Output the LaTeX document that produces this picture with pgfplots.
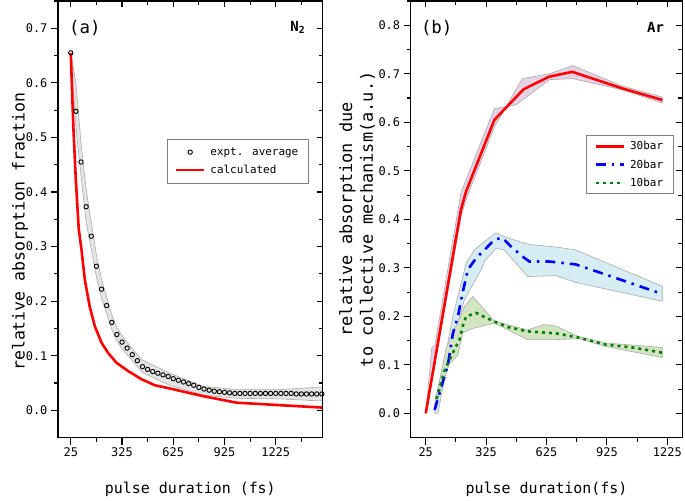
\documentclass[border=0pt]{standalone}
\usepackage{fontspec}
\setmainfont{DejaVu Sans Mono}
\usepackage{pgfplots}
\pgfplotsset{compat=1.18}
\definecolor{bandgray}{HTML}{E4E4E4}
\definecolor{bandpink}{HTML}{E6D2E6}
\definecolor{bandblue}{HTML}{D6EDF3}
\definecolor{bandgreen}{HTML}{D3E4C1}
\definecolor{bandedge}{HTML}{ABABAB}
\pgfplotsset{
  base/.style={scale only axis, axis line style={line width=1.3bp},
    tick style={line width=1.1bp, black}, major tick length=7bp, minor tick length=4bp,
    tick align=outside, xtick pos=bottom, ytick pos=left,
    ticklabel style={font=\fontsize{12}{14}\selectfont},
    /pgf/number format/assume math mode=true,
    xticklabel style={/pgf/number format/.cd, set thousands separator={}},
    yticklabel style={/pgf/number format/.cd, fixed, fixed zerofill, precision=1},
    xlabel style={font=\fontsize{15}{17}\selectfont, at={(axis description cs:0.5,-0.119)}, anchor=center},
    ylabel style={font=\fontsize{17}{21}\selectfont, anchor=center, align=center},
  },
  over/.style={scale only axis, axis line style={line width=1.3bp},
    tick style={line width=1.1bp, black}, major tick length=6bp, minor tick length=4bp,
    tick align=inside, xtick pos=top, ytick pos=right, xticklabels={}, yticklabels={}},
  band/.style={fill=#1, draw=bandedge, line width=0.6bp, forget plot},
  lineleg/.style={legend image code/.code={\draw[##1] (0bp,0bp) -- (28bp,0bp);}},
  myleg/.style={legend style={at={#1}, anchor=north west, draw=gray, line width=0.8bp,
    font=\fontsize{11}{13}\selectfont, inner xsep=8bp, inner ysep=4bp, row sep=4.5bp,
    /tikz/every odd column/.append style={column sep=3bp}},
    legend cell align=left},
}
\begin{document}
\begin{tikzpicture}
% ---------------- panel (a)
\begin{axis}[base, name=A, width=265bp, height=437bp,
  xmin=-50, xmax=1500, ymin=-0.05, ymax=0.75,
  xtick={25,325,625,925,1225}, minor xtick={175,475,775,1075,1375},
  ytick={0,0.1,0.2,0.3,0.4,0.5,0.6,0.7}, minor ytick={0.05,0.15,0.25,0.35,0.45,0.55,0.65,0.75},
  xlabel={pulse duration (fs)},
  ylabel={relative absorption fraction},
  ylabel style={at={(axis description cs:-0.1434,0.472)}, font=\fontsize{16.6}{20}\selectfont},
  myleg={(0.41,0.6835)}, legend style={inner ysep=6bp}]
\addplot[band=bandgray] coordinates {
(25,0.655)(55,0.60)(85,0.49)(115,0.405)(145,0.345)(175,0.285)(205,0.240)(235,0.208)(265,0.175)(295,0.152)(325,0.137)(355,0.125)(385,0.113)(415,0.102)(445,0.092)(605,0.068)(800,0.044)(1000,0.038)(1250,0.038)(1500,0.043)
(1500,0.017)(1250,0.021)(1000,0.022)(800,0.028)(605,0.046)(445,0.069)(415,0.080)(385,0.091)(355,0.102)(325,0.113)(295,0.127)(265,0.148)(235,0.178)(205,0.205)(175,0.245)(145,0.295)(115,0.345)(85,0.43)(55,0.52)(25,0.655)
} -- cycle;
\addplot[only marks, mark=o, mark size=2.2bp, black, mark options={line width=0.9bp},
  legend image code/.code={\draw[mark=o, mark size=2.2bp, black, line width=0.9bp] plot coordinates {(14bp,0bp)};}]
coordinates {
(25,0.655)(55,0.548)(85,0.455)(115,0.373)(145,0.319)(175,0.264)(205,0.222)(235,0.192)(265,0.161)(295,0.139)
(325,0.125)(355,0.114)(385,0.102)(415,0.091)(445,0.080)(475,0.075)(505,0.071)(535,0.068)(565,0.065)(595,0.062)
(625,0.058)(655,0.055)(685,0.052)(715,0.049)(745,0.046)(775,0.042)(805,0.039)(835,0.037)(865,0.035)(895,0.034)
(925,0.033)(955,0.032)(985,0.031)(1015,0.031)(1045,0.031)(1075,0.031)(1105,0.031)(1135,0.031)(1165,0.031)(1195,0.031)
(1225,0.031)(1255,0.031)(1285,0.031)(1315,0.031)(1345,0.030)(1375,0.030)(1405,0.030)(1435,0.030)(1465,0.030)(1495,0.030)
};
\addlegendentry{expt. average}
\addplot[red, line width=2.6bp, lineleg] coordinates {
(25,0.655)(40,0.52)(55,0.42)(72,0.331)(88,0.294)(107,0.24)(136,0.19)(166,0.154)(205,0.124)(244,0.105)(293,0.087)(361,0.072)(439,0.057)(517,0.046)(605,0.040)(800,0.026)(996,0.014)(1500,0.005)
};
\addlegendentry{calculated}
\node[font=\fontsize{17.5}{20}\selectfont] at (rel axis cs:0.102,0.938) {(a)};
\node[font=\bfseries\fontsize{14}{16}\selectfont] at (rel axis cs:0.906,0.940) {N\textsubscript{2}};
\end{axis}
% ---------------- panel (b)
\begin{axis}[base, name=B, at={(A.south west)}, anchor=south west, xshift=353bp, width=272bp, height=437bp,
  xmin=-50, xmax=1300, ymin=-0.05, ymax=0.85,
  xtick={25,325,625,925,1225}, minor xtick={175,475,775,1075},
  ytick={0,0.1,0.2,0.3,0.4,0.5,0.6,0.7,0.8}, minor ytick={0.05,0.15,0.25,0.35,0.45,0.55,0.65,0.75,0.85},
  xlabel={pulse duration(fs)},
  ylabel={relative absorption due\\to collective mechanism(a.u.)},
  ylabel style={at={(axis description cs:-0.1967,0.5)}},
  myleg={(0.646,0.693)}]
\addplot[band=bandpink] coordinates {
(25,0.0)(55,0.135)(70,0.14)(200,0.455)(366,0.628)(424,0.632)(505,0.69)(640,0.70)(755,0.717)(1000,0.675)(1200,0.652)
(1200,0.640)(1000,0.667)(755,0.690)(640,0.688)(473,0.636)(424,0.632)(366,0.590)(225,0.44)(200,0.405)(70,0.10)(55,0.07)(25,0.0)
} -- cycle;
\addplot[band=bandblue] coordinates {
(69,0.02)(100,0.08)(127,0.13)(160,0.2)(226,0.31)(267,0.337)(320,0.355)(374,0.372)(410,0.365)(506,0.352)(539,0.348)(671,0.343)(769,0.337)(1200,0.262)
(1200,0.231)(770,0.270)(671,0.284)(531,0.282)(415,0.337)(374,0.34)(320,0.315)(300,0.296)(218,0.235)(144,0.13)(86,0.0)(69,0.0)
} -- cycle;
\addplot[band=bandgreen] coordinates {
(78,0.035)(127,0.135)(175,0.18)(218,0.221)(259,0.241)(366,0.19)(530,0.172)(613,0.183)(671,0.180)(786,0.158)(918,0.145)(1200,0.136)
(1200,0.115)(918,0.138)(786,0.154)(671,0.152)(531,0.152)(366,0.186)(259,0.175)(209,0.166)(185,0.121)(140,0.10)(78,0.02)
} -- cycle;
\addplot[red, line width=2.6bp, lineleg] coordinates {
(25,0.0)(200,0.42)(225,0.457)(366,0.605)(511,0.668)(638,0.694)(753,0.704)(1000,0.670)(1200,0.646)
};
\addlegendentry{30bar}
\addplot[blue, line width=2.6bp, dash pattern=on 10bp off 6bp on 2.5bp off 6bp, lineleg] coordinates {
(69,0.007)(135,0.10)(160,0.165)(185,0.2)(210,0.252)(234,0.296)(275,0.32)(317,0.337)(366,0.358)(405,0.362)(456,0.341)(510,0.322)(540,0.313)(640,0.313)(770,0.307)(920,0.286)(1200,0.246)
};
\addlegendentry{20bar}
\addplot[green!50!black, line width=2.6bp, dash pattern=on 3bp off 4bp, lineleg] coordinates {
(78,0.03)(120,0.09)(168,0.132)(193,0.152)(209,0.18)(226,0.20)(276,0.207)(325,0.197)(374,0.188)(432,0.178)(531,0.169)(671,0.165)(786,0.156)(918,0.142)(1066,0.135)(1200,0.125)
};
\addlegendentry{10bar}
\node[font=\fontsize{17.5}{20}\selectfont] at (rel axis cs:0.096,0.938) {(b)};
\node[font=\bfseries\fontsize{14}{16}\selectfont] at (rel axis cs:0.901,0.940) {Ar};
\end{axis}
\begin{pgfinterruptboundingbox}
\begin{axis}[over, at={(A.south west)}, anchor=south west, width=265bp, height=437bp,
  xmin=-50, xmax=1500, ymin=-0.05, ymax=0.75,
  xtick={25,325,625,925,1225}, minor xtick={175,475,775,1075,1375},
  ytick={0,0.1,0.2,0.3,0.4,0.5,0.6,0.7}, minor ytick={0.05,0.15,0.25,0.35,0.45,0.55,0.65,0.75}]
\addplot[draw=none] coordinates {(25,0)};
\end{axis}
\begin{axis}[over, at={(B.south west)}, anchor=south west, width=272bp, height=437bp,
  xmin=-50, xmax=1300, ymin=-0.05, ymax=0.85,
  xtick={25,325,625,925,1225}, minor xtick={175,475,775,1075},
  ytick={0,0.1,0.2,0.3,0.4,0.5,0.6,0.7,0.8}, minor ytick={0.05,0.15,0.25,0.35,0.45,0.55,0.65,0.75,0.85}]
\addplot[draw=none] coordinates {(25,0)};
\end{axis}
\end{pgfinterruptboundingbox}
\path (A.south west) ++(-58bp,-62bp) rectangle ++(685bp,500bp);
\end{tikzpicture}
\end{document}
